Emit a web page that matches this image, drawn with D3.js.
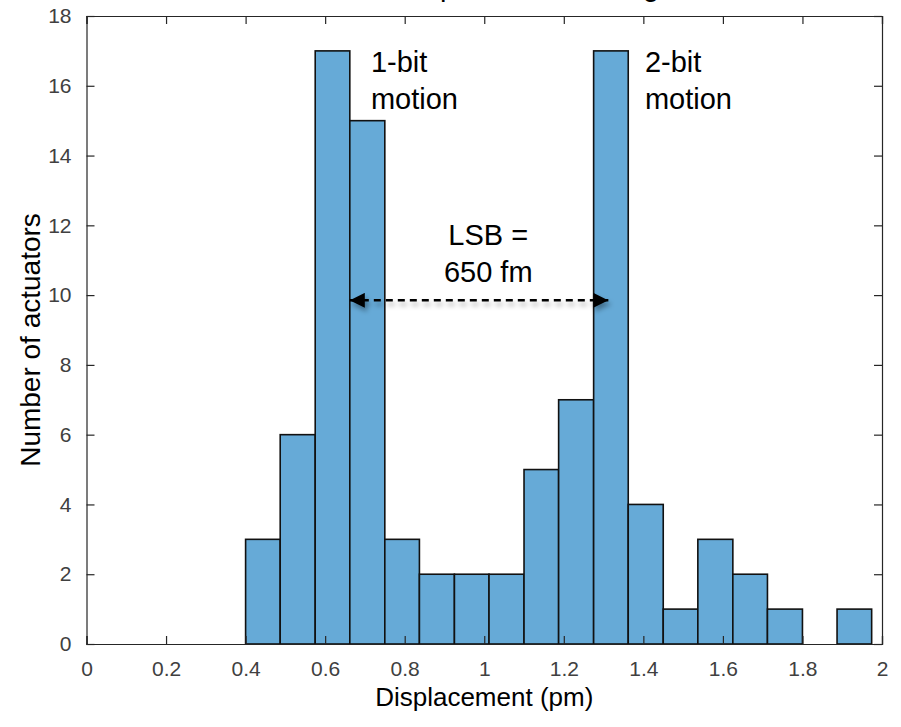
<!DOCTYPE html>
<html lang="en">
<head>
<meta charset="UTF-8">
<title>Displacement histogram</title>
<script src="https://cdnjs.cloudflare.com/ajax/libs/d3/7.8.5/d3.min.js"></script>
<style>
  html, body { margin: 0; padding: 0; background: #fff; }
  svg { font-family: "Liberation Sans", Arial, sans-serif; }
</style>
</head>
<body>
<div id="chart"></div>
<script>
// histogram bins (pm) and counts
var binEdges = [0.400, 0.487, 0.575, 0.662, 0.750, 0.837, 0.925, 1.012, 1.100, 1.187,
                1.275, 1.362, 1.450, 1.537, 1.625, 1.712, 1.800, 1.887, 1.974];
var counts = [3, 6, 17, 15, 3, 2, 2, 2, 5, 7, 17, 4, 1, 3, 2, 1, 0, 1];
var xTicks = [0, 0.2, 0.4, 0.6, 0.8, 1, 1.2, 1.4, 1.6, 1.8, 2];
var yTicks = [0, 2, 4, 6, 8, 10, 12, 14, 16, 18];

var W = 901, H = 727;
var margin = {top: 16, right: 19, bottom: 83, left: 86.5};
var width = W - margin.left - margin.right;
var height = H - margin.top - margin.bottom;

var svg = d3.select("#chart").append("svg")
  .attr("width", W)
  .attr("height", H);

var defs = svg.append("defs");
// user space region, a flat line has no bbox height
var f = defs.append("filter").attr("id", "shadow")
  .attr("filterUnits", "userSpaceOnUse")
  .attr("x", 0).attr("y", 0).attr("width", W).attr("height", H);
f.append("feDropShadow").attr("dx", 2).attr("dy", 4).attr("stdDeviation", 2.5)
  .attr("flood-color", "#000").attr("flood-opacity", 0.35);

["arrowL", "arrowR"].forEach(function(id, i) {
  defs.append("marker").attr("id", id)
    .attr("viewBox", "0 0 10 10").attr("refX", 10).attr("refY", 5)
    .attr("markerWidth", 6).attr("markerHeight", 6)
    .attr("markerUnits", "strokeWidth")
    .attr("orient", i == 0 ? "auto-start-reverse" : "auto")
    .append("path").attr("d", "M0,0 L10,5 L0,10 z").attr("fill", "#000");
});

// title, mostly cut off at the top edge like in the source figure
svg.append("text")
  .attr("x", 398).attr("y", -4)
  .style("font-size", "29px")
  .text("Displacement histogram");

var g = svg.append("g")
  .attr("transform", "translate(" + margin.left + "," + margin.top + ")");

var x = d3.scaleLinear().domain([0, 2]).range([0, width]);
var y = d3.scaleLinear().domain([0, 18]).range([height, 0]);

var bins = counts.map(function(c, i) {
  return {x0: binEdges[i], x1: binEdges[i + 1], n: c};
}).filter(function(d) { return d.n > 0; });

g.selectAll("rect.bar").data(bins).enter().append("rect")
  .attr("class", "bar")
  .attr("x", d => x(d.x0))
  .attr("y", d => y(d.n))
  .attr("width", d => x(d.x1) - x(d.x0))
  .attr("height", d => y(0) - y(d.n))
  .style("fill", "#66aad7")
  .style("stroke", "#111")
  .style("stroke-width", 1.6);

// axes, MATLAB style: ticks inside, full box
var axCol = "#262626";
var xAxis = g.append("g")
  .attr("transform", "translate(0," + height + ")")
  .call(d3.axisBottom(x).tickValues(xTicks).tickSize(-8).tickPadding(16)
    .tickFormat(d3.format("~g")));
var yAxis = g.append("g")
  .call(d3.axisLeft(y).tickValues(yTicks).tickSize(-8).tickPadding(15));
var xTop = g.append("g")
  .call(d3.axisTop(x).tickValues(xTicks).tickSize(-8).tickFormat(""));
var yRight = g.append("g")
  .attr("transform", "translate(" + width + ",0)")
  .call(d3.axisRight(y).tickValues(yTicks).tickSize(-8).tickFormat(""));

[xAxis, yAxis, xTop, yRight].forEach(function(a) {
  a.select(".domain").attr("stroke", axCol).attr("stroke-width", 1.2);
  a.selectAll(".tick line").attr("stroke", axCol).attr("stroke-width", 1.2);
  a.selectAll(".tick text").style("font-size", "21px").attr("fill", "#404040");
});
xAxis.selectAll(".tick text").attr("dy", "0.75em");

// axis labels
svg.append("text")
  .attr("x", margin.left + width / 2).attr("y", 706)
  .attr("text-anchor", "middle")
  .style("font-size", "26px")
  .text("Displacement (pm)");

svg.append("text")
  .attr("transform", "translate(40,340) rotate(-90)")
  .attr("text-anchor", "middle")
  .style("font-size", "28px")
  .text("Number of actuators");

// annotations
function label(x0, lines, anchor, y0) {
  var t = g.append("text")
    .attr("text-anchor", anchor)
    .style("font-size", "29px")
    .attr("fill", "#000");
  lines.forEach(function(s, i) {
    t.append("tspan").attr("x", x0).attr("y", y0 + i * 37).text(s);
  });
}
label(x(0.715), ["1-bit", "motion"], "start", y(16.4));
label(x(1.404), ["2-bit", "motion"], "start", y(16.4));
label(x(1.01), ["LSB =", "650 fm"], "middle", y(11.45));

// LSB arrow between the two peaks
g.append("line")
  .attr("x1", x(0.662)).attr("x2", x(1.312))
  .attr("y1", y(9.85)).attr("y2", y(9.85))
  .attr("stroke", "#000").attr("stroke-width", 2.5)
  .attr("stroke-dasharray", "7,5")
  .attr("marker-start", "url(#arrowL)")
  .attr("marker-end", "url(#arrowR)")
  .attr("filter", "url(#shadow)");
</script>
</body>
</html>
